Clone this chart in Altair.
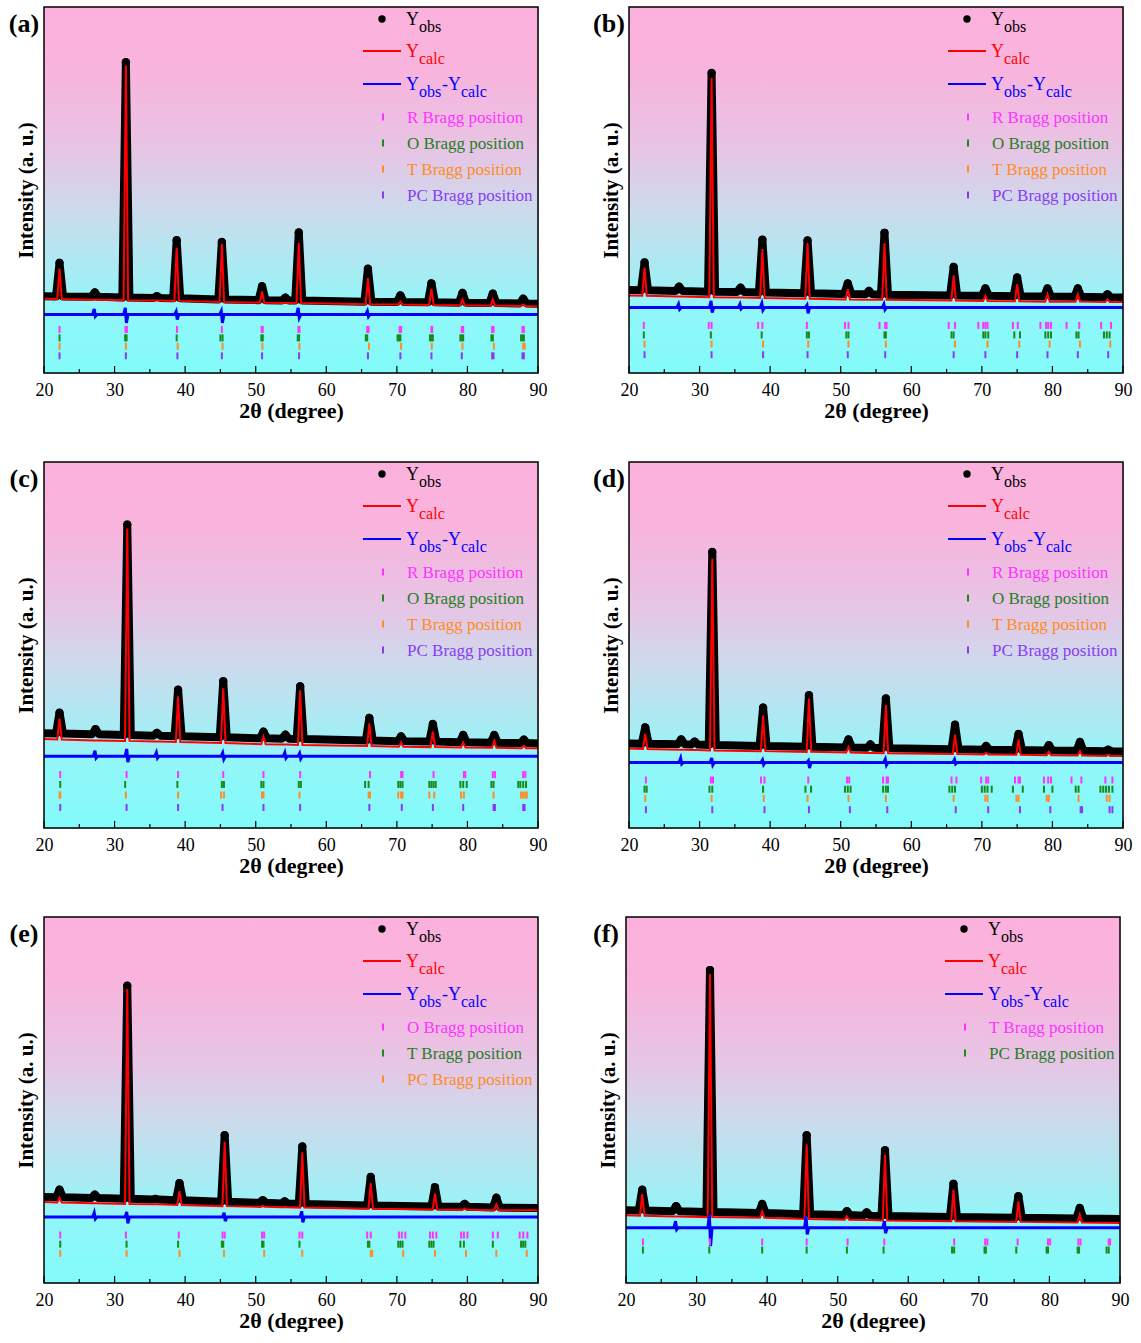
import altair as alt
import pandas as pd

SERIF = "Liberation Serif"

# ---------------- data ----------------
X_MAJOR = [20, 30, 40, 50, 60, 70, 80, 90]
X_MINOR = [25, 35, 45, 55, 65, 75, 85]

# panel (a)
A_POS = [22.2, 27.2, 31.6, 36.0, 38.8, 45.2, 50.9, 54.2, 56.1, 65.9, 70.5, 74.9, 79.3, 83.6, 87.9]
A_OBS_TOP = [30.1, 22.0, 84.9, 21.0, 36.3, 35.8, 23.7, 20.6, 38.4, 28.5, 21.2, 24.5, 21.9, 21.7, 20.3]
A_OBS_BASE = [20.9, 20.8, 20.6, 20.5, 20.4, 20.1, 19.9, 19.8, 19.8, 19.5, 19.4, 19.3, 19.2, 19.1, 19.0]
A_CALC_TOP = [28.5, 20.0, 84.0, 19.8, 34.2, 35.3, 22.3, 19.1, 35.6, 25.9, 19.5, 23.0, 20.1, 20.1, 18.7]
A_CALC_BASE = [20.2, 20.0, 19.9, 19.8, 19.7, 19.4, 19.2, 19.1, 19.1, 18.8, 18.7, 18.6, 18.5, 18.4, 18.3]
A_OBS_ENDS = [21.0, 18.9]
A_CALC_ENDS = [20.3, 18.2]
A_DIFF_BASE = 16.0
A_DIFF_POS = [27.2, 31.6, 38.8, 45.2, 56.1, 65.9]
A_DIFF_UP = [17.5, 17.8, 16.8, 16.9, 17.8, 16.9]
A_DIFF_DOWN = [15.5, 13.7, 14.6, 13.7, 15.1, 15.4]
A_R = [22.2, 31.55, 31.75, 38.85, 45.2, 50.85, 51.0, 56.05, 56.2, 65.8, 66.0, 70.4, 70.6, 74.9, 75.0,
       79.2, 79.4, 83.5, 83.7, 87.8, 88.0]
A_O = [22.2, 31.5, 31.7, 38.8, 45.0, 45.3, 50.8, 51.0, 55.95, 56.15, 65.6, 65.8, 70.1, 70.3, 70.5,
       74.7, 74.9, 75.1, 79.0, 79.2, 79.4, 83.4, 83.6, 87.6, 87.8, 88.0]
A_T = [22.2, 31.6, 38.95, 45.3, 50.95, 56.2, 66.05, 70.6, 74.95, 79.3, 83.75, 87.9, 88.1]
A_PC = [22.2, 31.6, 38.9, 45.2, 50.9, 56.15, 65.9, 70.5, 74.9, 79.2, 83.5, 83.7, 87.8, 88.0]

# panel (b)
B_POS = [22.2, 27.1, 31.7, 35.8, 38.9, 45.3, 51.0, 54.0, 56.2, 66.0, 70.5, 75.0, 79.3, 83.6, 87.8]
B_OBS_TOP = [30.2, 23.6, 82.0, 23.3, 36.4, 36.2, 24.5, 22.4, 38.3, 29.0, 23.1, 26.1, 23.1, 23.1, 21.5]
B_OBS_BASE = [22.6, 22.4, 22.2, 22.1, 22.0, 21.8, 21.6, 21.5, 21.4, 21.2, 21.1, 21.0, 20.9, 20.8, 20.7]
B_CALC_TOP = [28.8, 20.9, 80.6, 20.6, 33.9, 35.5, 22.9, 20.0, 35.5, 26.7, 21.1, 24.3, 21.5, 21.5, 20.1]
B_CALC_BASE = [21.1, 20.9, 20.7, 20.6, 20.5, 20.3, 20.1, 20.0, 20.0, 19.8, 19.7, 19.6, 19.5, 19.5, 19.4]
B_OBS_ENDS = [22.7, 20.6]
B_CALC_ENDS = [21.2, 19.4]
B_DIFF_BASE = 17.9
B_DIFF_POS = [27.1, 31.7, 35.8, 38.9, 45.3, 56.2]
B_DIFF_UP = [18.8, 19.7, 18.8, 19.0, 18.5, 18.8]
B_DIFF_DOWN = [17.4, 16.5, 17.5, 17.2, 16.3, 17.3]
B_R = [22.1, 31.3, 31.7, 38.3, 38.9, 45.2, 50.6, 51.1, 55.5, 56.3, 56.5, 65.3, 66.2, 69.5, 70.2, 70.5,
       70.8, 74.4, 75.1, 78.3, 79.1, 79.4, 79.8, 82.0, 83.8, 86.9, 88.3]
B_O = [22.1, 31.6, 38.8, 45.2, 45.5, 50.8, 51.1, 56.2, 56.4, 65.7, 66.0, 70.2, 70.5, 70.9, 74.6, 75.4,
       79.0, 79.4, 79.8, 83.4, 83.7, 87.3, 87.7, 88.1]
B_T = [22.2, 31.7, 39.0, 45.4, 51.1, 56.4, 66.2, 70.8, 75.3, 79.6, 83.9, 88.2]
B_PC = [22.2, 31.7, 39.0, 45.3, 51.0, 56.3, 66.0, 70.5, 75.0, 79.3, 83.6, 87.9]

# panel (c)
C_POS = [22.2, 27.3, 31.8, 36.0, 39.0, 45.4, 51.1, 54.2, 56.3, 66.1, 70.6, 75.1, 79.4, 83.8, 88.0]
C_OBS_TOP = [31.5, 27.0, 82.9, 26.0, 37.8, 40.1, 26.3, 25.5, 38.7, 30.1, 25.0, 28.4, 25.4, 25.4, 24.1]
C_OBS_BASE = [25.8, 25.6, 25.4, 25.2, 25.1, 24.8, 24.5, 24.4, 24.3, 23.9, 23.7, 23.6, 23.4, 23.3, 23.2]
C_CALC_TOP = [29.9, 23.9, 81.8, 23.6, 36.0, 38.2, 25.0, 22.8, 37.6, 28.6, 23.4, 26.3, 23.4, 23.8, 22.5]
C_CALC_BASE = [24.2, 23.9, 23.8, 23.6, 23.5, 23.2, 22.9, 22.8, 22.7, 22.4, 22.2, 22.1, 22.0, 21.9, 21.8]
C_OBS_ENDS = [25.9, 23.1]
C_CALC_ENDS = [24.3, 21.8]
C_DIFF_BASE = 19.6
C_DIFF_POS = [27.3, 31.8, 36.0, 45.4, 54.2, 56.3]
C_DIFF_UP = [21.1, 21.6, 20.6, 20.5, 20.6, 20.4]
C_DIFF_DOWN = [19.1, 18.0, 19.1, 18.8, 19.1, 18.9]
C_R = [22.3, 31.7, 39.0, 45.4, 51.1, 56.3, 66.2, 70.6, 70.8, 75.2, 79.5, 79.7, 83.6, 83.9, 87.9, 88.2]
C_O = [22.3, 31.5, 38.9, 45.2, 45.5, 50.8, 51.1, 56.1, 56.4, 65.5, 66.0, 70.2, 70.5, 70.8, 74.6, 74.9,
       75.2, 75.5, 79.0, 79.4, 79.9, 83.4, 83.7, 87.2, 87.5, 87.9, 88.3]
C_T = [22.2, 22.3, 31.6, 39.0, 45.1, 45.5, 50.9, 51.1, 56.2, 66.0, 66.2, 70.2, 70.6, 70.8, 74.6, 75.3,
       79.1, 79.5, 83.7, 87.6, 87.9, 88.2, 88.4]
C_PC = [22.3, 31.7, 39.0, 45.3, 51.1, 56.3, 66.1, 70.7, 75.1, 79.4, 83.7, 83.9, 87.9, 88.1]

# panel (d)
D_POS = [22.3, 27.4, 29.3, 31.8, 39.0, 45.5, 51.1, 54.2, 56.4, 66.2, 70.6, 75.2, 79.5, 83.9, 87.9]
D_OBS_TOP = [27.5, 24.2, 23.6, 75.4, 32.9, 36.3, 24.2, 22.8, 35.4, 28.2, 22.4, 25.7, 22.6, 23.5, 21.4]
D_OBS_BASE = [23.0, 22.9, 22.8, 22.7, 22.4, 22.2, 22.0, 21.9, 21.8, 21.5, 21.4, 21.3, 21.2, 21.1, 21.0]
D_CALC_TOP = [25.7, 21.4, 21.3, 73.6, 30.7, 35.4, 22.1, 20.5, 33.6, 25.5, 20.6, 24.2, 20.8, 21.0, 20.0]
D_CALC_BASE = [21.6, 21.4, 21.3, 21.2, 21.0, 20.8, 20.6, 20.5, 20.4, 20.2, 20.1, 20.0, 19.9, 19.8, 19.7]
D_OBS_ENDS = [23.1, 20.9]
D_CALC_ENDS = [21.7, 19.7]
D_DIFF_BASE = 17.9
D_DIFF_POS = [27.4, 31.8, 39.0, 45.5, 56.4, 66.2]
D_DIFF_UP = [19.1, 19.1, 18.6, 18.4, 18.8, 18.7]
D_DIFF_DOWN = [17.5, 17.2, 17.3, 16.4, 17.2, 17.5]
D_R = [22.4, 31.6, 31.9, 38.7, 39.2, 45.4, 50.9, 51.2, 56.0, 56.5, 56.7, 65.7, 66.4, 69.9, 70.6, 70.9,
       74.7, 75.2, 75.4, 78.8, 79.4, 79.8, 82.7, 84.1, 87.5, 88.5]
D_O = [22.2, 22.5, 31.4, 31.8, 39.0, 45.0, 45.8, 50.6, 51.0, 51.4, 56.0, 56.4, 56.7, 65.4, 65.8, 66.2,
       70.0, 70.4, 70.8, 71.4, 74.4, 75.8, 78.8, 80.0, 83.3, 83.7, 86.8, 87.2, 87.6, 88.0, 88.5]
D_T = [22.3, 31.7, 39.1, 45.3, 51.1, 56.4, 66.0, 70.5, 70.8, 74.9, 75.2, 79.2, 79.5, 83.7, 87.7, 88.1]
D_PC = [22.4, 31.8, 39.2, 45.5, 51.3, 56.6, 66.3, 70.9, 75.4, 79.7, 84.0, 84.2, 88.1, 88.5]

# panel (e)
E_POS = [22.2, 27.2, 31.8, 35.8, 39.2, 45.6, 51.0, 54.1, 56.6, 66.3, 75.4, 79.6, 84.1]
E_OBS_TOP = [25.5, 24.1, 81.2, 23.0, 27.3, 40.4, 22.6, 22.3, 37.3, 29.0, 26.2, 21.6, 23.3]
E_OBS_BASE = [23.4, 23.2, 23.0, 22.8, 22.6, 22.2, 21.9, 21.7, 21.6, 21.2, 20.9, 20.8, 20.6]
E_CALC_TOP = [23.3, 21.8, 80.3, 21.5, 25.1, 38.6, 21.0, 20.7, 35.7, 27.3, 24.4, 20.3, 21.4]
E_CALC_BASE = [22.0, 21.8, 21.6, 21.5, 21.3, 21.0, 20.8, 20.7, 20.6, 20.3, 20.1, 20.0, 19.9]
E_OBS_ENDS = [23.5, 20.5]
E_CALC_ENDS = [22.1, 19.9]
E_DIFF_BASE = 18.0
E_DIFF_POS = [27.2, 31.8, 45.6, 56.6]
E_DIFF_UP = [19.2, 19.4, 19.2, 19.6]
E_DIFF_DOWN = [17.5, 16.3, 16.9, 16.6]
E_O = [22.3, 31.6, 39.1, 45.3, 45.6, 50.9, 51.2, 56.2, 56.6, 65.8, 66.3, 70.3, 70.7, 71.2, 74.7, 75.1,
       75.6, 79.1, 79.5, 80.0, 83.6, 84.3, 87.4, 87.9, 88.5]
E_T = [22.3, 31.7, 39.0, 45.2, 45.4, 50.9, 51.1, 56.2, 65.9, 66.1, 70.2, 70.5, 70.8, 74.6, 74.9, 75.2,
       79.0, 79.5, 83.6, 87.6, 87.9, 88.2]
E_PC = [22.3, 31.7, 39.2, 45.5, 51.2, 56.6, 66.3, 66.5, 70.9, 75.4, 79.8, 84.1, 88.4]

# panel (f)
F_POS = [22.3, 27.1, 31.9, 39.3, 45.6, 51.3, 54.1, 56.7, 66.4, 75.6, 84.3]
F_OBS_TOP = [25.5, 21.0, 85.5, 21.6, 40.4, 19.6, 19.3, 36.3, 27.1, 23.7, 20.5]
F_OBS_BASE = [19.8, 19.6, 19.4, 19.1, 18.8, 18.6, 18.4, 18.3, 18.0, 17.8, 17.6]
F_CALC_TOP = [24.3, 18.2, 84.4, 19.6, 37.9, 18.2, 17.2, 35.0, 25.5, 22.3, 18.7]
F_CALC_BASE = [18.4, 18.2, 18.0, 17.8, 17.5, 17.3, 17.2, 17.1, 16.9, 16.7, 16.5]
F_OBS_ENDS = [19.9, 17.5]
F_CALC_ENDS = [18.5, 16.4]
F_DIFF_BASE = 15.1
F_DIFF_POS = [27.1, 31.9, 45.6, 56.7]
F_DIFF_UP = [16.9, 18.7, 18.2, 16.9]
F_DIFF_DOWN = [14.6, 10.1, 13.3, 13.6]
F_T = [22.4, 31.9, 39.3, 45.6, 51.4, 56.6, 66.5, 70.9, 71.2, 75.5, 79.8, 80.1, 84.1, 84.4, 88.4, 88.6]
F_PC = [22.4, 31.8, 39.3, 45.6, 51.3, 56.5, 66.2, 66.5, 70.8, 71.0, 75.3, 79.6, 79.8, 84.0, 84.2, 88.1, 88.4]

LABELS = ["(a)", "(b)", "(c)", "(d)", "(e)", "(f)"]
PHASES = [["R", "O", "T", "PC"], ["R", "O", "T", "PC"], ["R", "O", "T", "PC"],
          ["R", "O", "T", "PC"], ["O", "T", "PC"], ["T", "PC"]]

# ---------------- layout / style ----------------
W, H = 494, 366
PHASE_COLORS = ["#ff33ff", "#1a8a1a", "#ff8c26", "#8a3cf5"]
TEXT_COLORS = ["#ff33ff", "#1f7f1f", "#ff8c26", "#8a3cf5"]
ROW_LEVELS = [[11.9, 9.6, 7.3, 4.7], [13.0, 10.4, 7.9, 5.0], [14.6, 11.9, 9.0, 5.6],
              [13.1, 10.6, 8.1, 5.0], [13.1, 10.6, 8.1], [11.2, 9.0]]
OBS_HW = 0.5
CALC_HW = 0.32

GRAD = alt.Gradient(
    gradient="linear",
    stops=[
        alt.GradientStop(color="#fcb1dd", offset=0.0),
        alt.GradientStop(color="#f8b4dd", offset=0.18),
        alt.GradientStop(color="#e6c5e5", offset=0.40),
        alt.GradientStop(color="#cddaec", offset=0.55),
        alt.GradientStop(color="#ade9f2", offset=0.70),
        alt.GradientStop(color="#92f6f8", offset=0.82),
        alt.GradientStop(color="#82fbfb", offset=1.0),
    ],
    x1=0, x2=0, y1=0, y2=1,
)

XS = alt.Scale(domain=[20, 90], nice=False, zero=False)
YS = alt.Scale(domain=[0, 100], nice=False, zero=False)
AX = alt.Axis(
    values=X_MAJOR, ticks=False, domain=False, grid=False, title="2θ (degree)",
    labelFont=SERIF, labelFontSize=18, labelColor="black", labelPadding=8,
    labelFlush=False, titleFont=SERIF, titleFontSize=22, titleFontWeight="bold",
    titleColor="black", titlePadding=1)
AY = alt.Axis(
    labels=False, ticks=False, domain=False, grid=False, title="Intensity (a. u.)",
    titleFont=SERIF, titleFontSize=21, titleFontWeight="bold", titleColor="black",
    titlePadding=8)
ONE = pd.DataFrame({"k": [0]})


def X(f):
    return alt.X(f, scale=XS, axis=AX, title="2θ (degree)")


def Y(f):
    return alt.Y(f, scale=YS, axis=AY, title="Intensity (a. u.)")


def profile(pos, top, base, ends, hw):
    xs, ys = [20.0], [ends[0]]
    for p, t, b in zip(pos, top, base):
        xs += [p - hw, p, p + hw]
        ys += [b, t, b]
    xs.append(90.0)
    ys.append(ends[1])
    return pd.DataFrame({"x": xs, "y": ys, "o": list(range(len(xs)))})


def diff_profile(base, pos, up, down):
    xs, ys = [20.0], [base]
    for p, u, d in zip(pos, up, down):
        xs += [p - 0.3, p - 0.08, p + 0.08, p + 0.3]
        ys += [base, u, d, base]
    xs.append(90.0)
    ys.append(base)
    return pd.DataFrame({"x": xs, "y": ys, "o": list(range(len(xs)))})


def txt(s, px, py, color, size, weight="normal", align="left", baseline="alphabetic"):
    return alt.Chart(ONE).mark_text(
        text=s, font=SERIF, fontSize=size, fontWeight=weight, color=color,
        align=align, baseline=baseline,
    ).encode(x=alt.value(px), y=alt.value(py))


def panel(i, pos, otop, obase, ctop, cbase, oends, cends, dbase, dpos, dup, ddown, braggs):
    layers = []
    layers.append(alt.Chart(ONE).mark_rect(fill=GRAD).encode(
        x=alt.value(0), x2=alt.value(W), y=alt.value(0), y2=alt.value(H)))

    obs = profile(pos, otop, obase, oends, OBS_HW)
    layers.append(alt.Chart(obs).mark_line(
        color="black", strokeWidth=8, strokeJoin="round", strokeCap="butt", clip=True).encode(
        x=X("x:Q"), y=Y("y:Q"), order="o:Q"))
    apex = pd.DataFrame({"x": pos, "y": otop})
    layers.append(alt.Chart(apex).mark_circle(size=70, color="black", opacity=1).encode(
        x=X("x:Q"), y=Y("y:Q")))

    calc = profile(pos, ctop, cbase, cends, CALC_HW)
    layers.append(alt.Chart(calc).mark_line(color="#ff0000", strokeWidth=2, clip=True).encode(
        x=X("x:Q"), y=Y("y:Q"), order="o:Q"))

    diff = diff_profile(dbase, dpos, dup, ddown)
    layers.append(alt.Chart(diff).mark_line(color="#0000ff", strokeWidth=3, clip=True).encode(
        x=X("x:Q"), y=Y("y:Q"), order="o:Q"))

    for j, b in enumerate(braggs):
        df = pd.DataFrame({"x": b, "y": [ROW_LEVELS[i][j]] * len(b)})
        layers.append(alt.Chart(df).mark_tick(
            orient="vertical", size=7, thickness=2, color=PHASE_COLORS[j], opacity=1).encode(
            x=X("x:Q"), y=Y("y:Q")))

    # inward x ticks
    layers.append(alt.Chart(pd.DataFrame({"x": X_MAJOR})).mark_rule(color="black", strokeWidth=1.2).encode(
        x=X("x:Q"), y=alt.value(H), y2=alt.value(H - 7)))
    layers.append(alt.Chart(pd.DataFrame({"x": X_MINOR})).mark_rule(color="black", strokeWidth=1.2).encode(
        x=X("x:Q"), y=alt.value(H), y2=alt.value(H - 4)))

    # frame
    layers.append(alt.Chart(ONE).mark_rect(filled=False, stroke="black", strokeWidth=1.5).encode(
        x=alt.value(0), x2=alt.value(W), y=alt.value(0), y2=alt.value(H)))

    # legend
    lx = W - 132
    layers.append(alt.Chart(ONE).mark_circle(size=55, color="black", opacity=1).encode(
        x=alt.value(W - 156), y=alt.value(12)))
    layers.append(txt("Y", lx, 18, "black", 18))
    layers.append(txt("obs", lx + 13, 25, "black", 16))
    layers.append(alt.Chart(ONE).mark_rule(color="#ff0000", strokeWidth=2).encode(
        x=alt.value(W - 175), x2=alt.value(W - 137), y=alt.value(44)))
    layers.append(txt("Y", lx, 50, "#ff0000", 18))
    layers.append(txt("calc", lx + 13, 57, "#ff0000", 16))
    layers.append(alt.Chart(ONE).mark_rule(color="#0000ff", strokeWidth=2).encode(
        x=alt.value(W - 175), x2=alt.value(W - 137), y=alt.value(77)))
    layers.append(txt("Y", lx, 83, "#0000ff", 18))
    layers.append(txt("obs", lx + 13, 90, "#0000ff", 16))
    layers.append(txt("-", lx + 36, 83, "#0000ff", 18))
    layers.append(txt("Y", lx + 42, 83, "#0000ff", 18))
    layers.append(txt("calc", lx + 55, 90, "#0000ff", 16))
    for j, name in enumerate(PHASES[i]):
        cy = 110 + 26 * j
        layers.append(alt.Chart(ONE).mark_rule(color=PHASE_COLORS[j], strokeWidth=2).encode(
            x=alt.value(W - 155), y=alt.value(cy - 3.5), y2=alt.value(cy + 3.5)))
        layers.append(txt(name + " Bragg position", lx + 1, cy + 6, TEXT_COLORS[j], 17))

    # panel label
    layers.append(txt(LABELS[i], -20, 17, "black", 26, weight="bold", align="center", baseline="middle"))

    return alt.layer(*layers).properties(width=W, height=H)


pa = panel(0, A_POS, A_OBS_TOP, A_OBS_BASE, A_CALC_TOP, A_CALC_BASE, A_OBS_ENDS, A_CALC_ENDS,
           A_DIFF_BASE, A_DIFF_POS, A_DIFF_UP, A_DIFF_DOWN, [A_R, A_O, A_T, A_PC])
pb = panel(1, B_POS, B_OBS_TOP, B_OBS_BASE, B_CALC_TOP, B_CALC_BASE, B_OBS_ENDS, B_CALC_ENDS,
           B_DIFF_BASE, B_DIFF_POS, B_DIFF_UP, B_DIFF_DOWN, [B_R, B_O, B_T, B_PC])
pc = panel(2, C_POS, C_OBS_TOP, C_OBS_BASE, C_CALC_TOP, C_CALC_BASE, C_OBS_ENDS, C_CALC_ENDS,
           C_DIFF_BASE, C_DIFF_POS, C_DIFF_UP, C_DIFF_DOWN, [C_R, C_O, C_T, C_PC])
pd_ = panel(3, D_POS, D_OBS_TOP, D_OBS_BASE, D_CALC_TOP, D_CALC_BASE, D_OBS_ENDS, D_CALC_ENDS,
            D_DIFF_BASE, D_DIFF_POS, D_DIFF_UP, D_DIFF_DOWN, [D_R, D_O, D_T, D_PC])
pe = panel(4, E_POS, E_OBS_TOP, E_OBS_BASE, E_CALC_TOP, E_CALC_BASE, E_OBS_ENDS, E_CALC_ENDS,
           E_DIFF_BASE, E_DIFF_POS, E_DIFF_UP, E_DIFF_DOWN, [E_O, E_T, E_PC])
pf = panel(5, F_POS, F_OBS_TOP, F_OBS_BASE, F_CALC_TOP, F_CALC_BASE, F_OBS_ENDS, F_CALC_ENDS,
           F_DIFF_BASE, F_DIFF_POS, F_DIFF_UP, F_DIFF_DOWN, [F_T, F_PC])

row1 = alt.hconcat(pa, pb, spacing=44)
row2 = alt.hconcat(pc, pd_, spacing=44)
row3 = alt.hconcat(pe, pf, spacing=44)

chart = alt.vconcat(row1, row2, row3, spacing=38).properties(
    padding={"left": 8, "top": 5, "right": 0, "bottom": 0},
    background="white",
).configure_view(stroke=None).configure(font=SERIF)

chart.save("out.html", embed_options={"renderer": "svg", "actions": False})
